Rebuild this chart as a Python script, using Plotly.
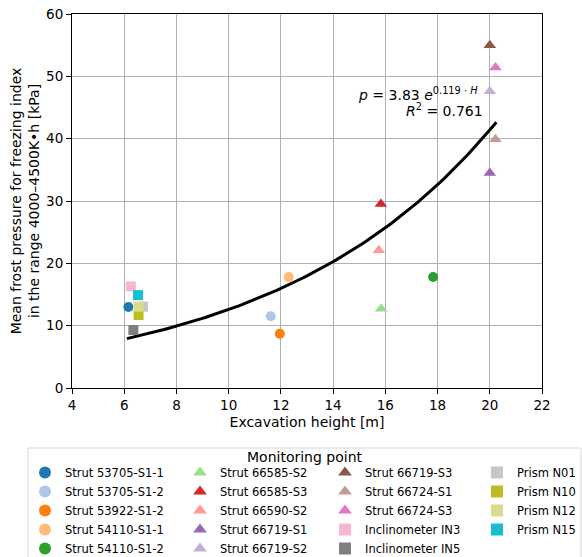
import numpy as np
import plotly.graph_objects as go

names = ["Strut 53705-S1-1", "Strut 53705-S1-2", "Strut 53922-S1-2", "Strut 54110-S1-1",
         "Strut 54110-S1-2", "Strut 66585-S2", "Strut 66585-S3", "Strut 66590-S2",
         "Strut 66719-S1", "Strut 66719-S2", "Strut 66719-S3", "Strut 66724-S1",
         "Strut 66724-S3", "Inclinometer IN3", "Inclinometer IN5", "Prism N01",
         "Prism N10", "Prism N12", "Prism N15"]
heights = [6.16, 11.61, 11.96, 12.3, 17.83, 15.84, 15.83, 15.75,
           20.0, 20.0, 20.0, 20.22, 20.22, 6.25, 6.35, 6.72, 6.55, 6.55, 6.53]
pressures = [13.0, 11.5, 8.7, 17.8, 17.8, 12.7, 29.5, 22.1,
             34.5, 47.6, 55.0, 39.9, 51.4, 16.3, 9.3, 13.05, 11.7, 13.05, 14.9]
symbols = ["circle"] * 5 + ["triangle-up"] * 8 + ["square"] * 6
colors = ["#1f77b4", "#aec7e8", "#ff7f0e", "#ffbb78", "#2ca02c", "#98df8a", "#d62728",
          "#ff9896", "#9467bd", "#c5b0d5", "#8c564b", "#c49c94", "#e377c2", "#f7b6d2",
          "#7f7f7f", "#c7c7c7", "#bcbd22", "#dbdb8d", "#17becf"]
legend_columns = [1] * 5 + [2] * 5 + [3] * 5 + [4] * 4

fit_a, fit_b = 3.83, 0.119
fit_h = np.linspace(6.1, 20.25, 100)
fit_p = fit_a * np.exp(fit_b * fit_h)

FONT = "DejaVu Sans"
W, H = 582, 557
ML, MR, MT, MB = 72, 40, 14, 169
PW, PH = W - ML - MR, H - MT - MB


def px_to_paper_x(px):
    return (px - ML) / PW


def px_to_paper_y(py):
    return (H - MB - py) / PH


fig = go.Figure()

fig.add_trace(go.Scatter(x=fit_h, y=fit_p, mode="lines", line=dict(color="black", width=3),
                         showlegend=False, hoverinfo="skip"))

for n, h, p, s, c, lc in zip(names, heights, pressures, symbols, colors, legend_columns):
    fig.add_trace(go.Scatter(x=[h], y=[p], mode="markers", name=n,
                             legend="legend" if lc == 1 else f"legend{lc}",
                             marker=dict(symbol=s, color=c, size=10 if s != "triangle-up" else 11,
                                         line=dict(width=0))))

fig.add_annotation(x=19.62, y=47.2, xref="x", yref="y", xanchor="right", yanchor="middle",
                   text="<i>p</i> = 3.83 <i>e</i><sup>0.119 · <i>H</i></sup>", showarrow=False,
                   font=dict(family=FONT, size=14, color="black"))
fig.add_annotation(x=19.8, y=44.6, xref="x", yref="y", xanchor="right", yanchor="middle",
                   text="<i>R</i><sup>2</sup> = 0.761", showarrow=False,
                   font=dict(family=FONT, size=14, color="black"))

axis_common = dict(showgrid=True, gridcolor="#b0b0b0", gridwidth=1, showline=True,
                   linecolor="black", linewidth=1, mirror=True, ticks="outside", ticklen=5,
                   tickcolor="black", zeroline=False,
                   tickfont=dict(family=FONT, size=13.5, color="black"))
fig.update_xaxes(range=[4, 22], dtick=2, title=dict(text="Excavation height [m]", standoff=4,
                 font=dict(family=FONT, size=14, color="black")), **axis_common)
fig.update_yaxes(range=[0, 60], dtick=10,
                 title=dict(text="Mean frost pressure for freezing index<br>in the range 4000–4500K•h [kPa]",
                            standoff=3, font=dict(family=FONT, size=14, color="black")), **axis_common)

# legend frame and title
fig.add_shape(type="rect", xref="paper", yref="paper",
              x0=px_to_paper_x(28), x1=px_to_paper_x(581), y0=px_to_paper_y(448), y1=px_to_paper_y(600),
              line=dict(color="#d6d6d6", width=1), fillcolor="white", layer="below")
fig.add_annotation(x=px_to_paper_x(305), y=px_to_paper_y(457), xref="paper", yref="paper",
                   text="Monitoring point", showarrow=False, xanchor="center", yanchor="middle",
                   font=dict(family=FONT, size=14, color="black"))

col_left_px = [25, 180, 325, 477]
leg_top_px = 458
legend_common = dict(orientation="v", yanchor="top", xanchor="left", borderwidth=0,
                     bgcolor="rgba(0,0,0,0)", traceorder="normal", itemsizing="constant",
                     font=dict(family=FONT, size=11.5, color="black"))
layout_legends = {}
for i, lx in enumerate(col_left_px):
    key = "legend" if i == 0 else f"legend{i + 1}"
    layout_legends[key] = dict(x=px_to_paper_x(lx), y=px_to_paper_y(leg_top_px), **legend_common)

fig.update_layout(
    width=W, height=H, plot_bgcolor="white", paper_bgcolor="white",
    margin=dict(l=ML, r=MR, t=MT, b=MB, autoexpand=False),
    font=dict(family=FONT),
    **layout_legends,
)
fig.write_html("out.html", config={"displayModeBar": False},
               post_script="document.body.style.margin='0';document.body.style.overflow='hidden';")
